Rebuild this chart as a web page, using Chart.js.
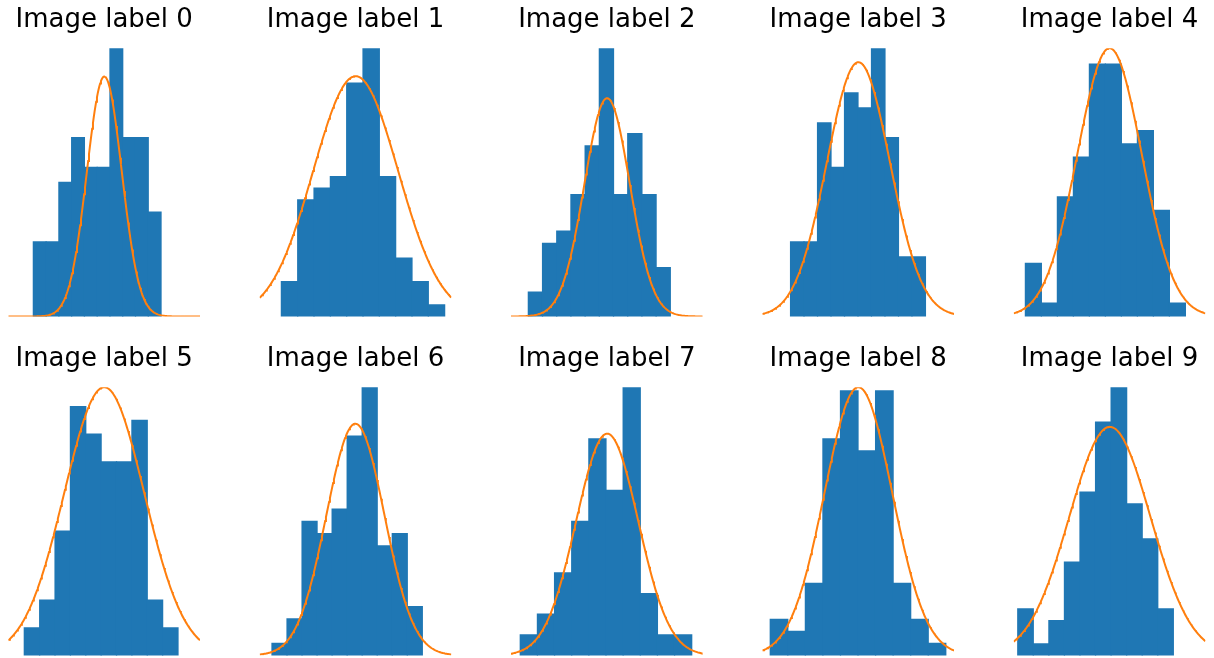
<!DOCTYPE html>
<html>
<head>
<meta charset="utf-8">
<script src="https://cdn.jsdelivr.net/npm/chart.js@4.4.1/dist/chart.umd.min.js"></script>
<style>
  html, body { margin: 0; padding: 0; background: #fff; overflow: hidden; }
  #grid { position: relative; width: 1214px; height: 658px; }
  #grid canvas { position: absolute; }
</style>
</head>
<body>
<div id="grid"></div>
<script>
// Panel titles
const titles = [
  'Image label 0', 'Image label 1', 'Image label 2', 'Image label 3', 'Image label 4',
  'Image label 5', 'Image label 6', 'Image label 7', 'Image label 8', 'Image label 9'
];

// Histogram counts per panel (10 equal-width bins, bin index as x unit)
const counts0 = [5, 5, 9, 12, 10, 10, 18, 12, 12, 7];
const counts1 = [3, 10, 11, 12, 20, 23, 12, 5, 3, 1];
const counts2 = [2, 6, 7, 10, 14, 22, 10, 15, 10, 4];
const counts3 = [5, 5, 13, 10, 15, 14, 18, 12, 4, 4];
const counts4 = [4, 1, 9, 12, 19, 19, 13, 14, 8, 1];
const counts5 = [2, 4, 9, 18, 16, 14, 14, 17, 4, 2];
const counts6 = [1, 3, 11, 10, 12, 18, 22, 9, 10, 4];
const counts7 = [2, 4, 8, 13, 21, 16, 26, 6, 2, 2];
const counts8 = [3, 2, 6, 18, 22, 17, 22, 6, 3, 1];
const counts9 = [4, 1, 3, 8, 14, 20, 23, 13, 10, 4];
const allCounts = [counts0, counts1, counts2, counts3, counts4, counts5, counts6, counts7, counts8, counts9];

// Normal curve overlaid on each histogram (same bin-index x units, count y units)
const curveMean = [5.56, 4.55, 5.55, 5.03, 5.26, 5.20, 5.55, 5.07, 5.02, 5.92];
const curveSd   = [1.36, 2.60, 1.60, 2.34, 2.01, 2.60, 1.93, 1.81, 1.93, 2.61];
const curvePeak = [16.1, 20.6, 17.9, 17.06, 20.2, 19.4, 19.0, 21.5, 22.3, 19.6];
const curveFrom = [-1.96, -1.33, -1.22, -2.09, -0.73, -1.04, -0.82, -0.54, -0.45, -0.26];
const curveTo   = [13.05, 10.41, 12.28, 12.12, 11.25, 11.43, 11.93, 10.64, 10.47, 12.06];

const histColor = '#1f77b4';
const curveColor = '#ff7f0e';

// Grid layout
const COLS = 5;
const plotLeft0 = 8.3, colStep = 251.35, plotWidth = 191.7;
const canvasW = 210, canvasH = 319;
const rowTop = [0, 339];

function normalCurve(i) {
  const pts = [];
  const n = 240;
  const a = curveFrom[i], b = curveTo[i];
  const m = curveMean[i], s = curveSd[i], p = curvePeak[i];
  for (let k = 0; k <= n; k++) {
    const x = a + (b - a) * k / n;
    const z = (x - m) / s;
    pts.push({ x: x, y: p * Math.exp(-0.5 * z * z) });
  }
  return pts;
}

const grid = document.getElementById('grid');

allCounts.forEach((counts, i) => {
  const col = i % COLS;
  const row = Math.floor(i / COLS);
  const plotLeft = plotLeft0 + colStep * col;
  const left = Math.floor(plotLeft) - 8;
  const padLeft = plotLeft - left;
  const padRight = canvasW - padLeft - plotWidth;

  const canvas = document.createElement('canvas');
  canvas.width = canvasW;
  canvas.height = canvasH;
  canvas.style.left = left + 'px';
  canvas.style.top = rowTop[row] + 'px';
  canvas.style.width = canvasW + 'px';
  canvas.style.height = canvasH + 'px';
  grid.appendChild(canvas);

  const yTop = Math.max(Math.max(...counts), curvePeak[i]);

  new Chart(canvas, {
    type: 'bar',
    data: {
      datasets: [
        {
          type: 'line',
          data: normalCurve(i),
          borderColor: curveColor,
          borderWidth: 2,
          pointRadius: 0,
          tension: 0,
          fill: false,
          order: 0
        },
        {
          type: 'bar',
          data: counts.map((c, k) => ({ x: k + 0.5, y: c })),
          backgroundColor: histColor,
          borderWidth: 0,
          inflateAmount: 0.6,
          barPercentage: 1,
          categoryPercentage: 1,
          order: 1
        }
      ]
    },
    options: {
      responsive: false,
      animation: false,
      devicePixelRatio: 1,
      layout: { padding: { left: padLeft, right: padRight, top: 0, bottom: 2.5 } },
      plugins: {
        legend: { display: false },
        tooltip: { enabled: false },
        title: {
          display: true,
          text: titles[i],
          color: '#000',
          font: { family: 'DejaVu Sans', size: 26, weight: 'normal', lineHeight: 1 },
          padding: { top: 6.9, bottom: 15.3 }
        }
      },
      scales: {
        x: {
          type: 'linear',
          min: curveFrom[i],
          max: curveTo[i],
          offset: false,
          display: false,
          grid: { display: false },
          ticks: { stepSize: 5, includeBounds: false }
        },
        y: {
          min: 0,
          max: yTop,
          display: false,
          grid: { display: false }
        }
      }
    }
  });
});
</script>
</body>
</html>
